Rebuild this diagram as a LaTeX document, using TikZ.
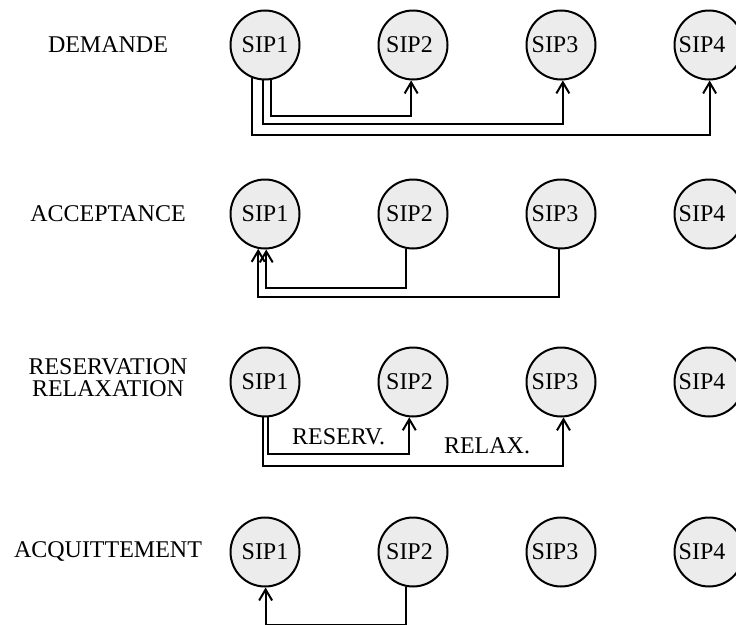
\documentclass[tikz,border=0pt]{standalone}
\usepackage{fontspec}
\setmainfont{Liberation Serif}
\usetikzlibrary{arrows.meta,positioning}
\tikzstyle{sip} = [circle, minimum size=69pt, inner sep=0pt, draw=black, fill=gray!15, line width=2pt, font=\fontsize{24}{21}\selectfont]
\tikzstyle{phase} = [align=center, font=\fontsize{24}{22}\selectfont]
\tikzstyle{tag} = [font=\fontsize{24}{21}\selectfont, inner sep=0pt]
\tikzstyle{msg} = [line width=2pt, -{Straight Barb[length=11pt,width=13pt,line width=2pt]}]

\begin{document}
\begin{tikzpicture}[x=1pt, y=1pt, node distance={77pt}]
			\useasboundingbox (0,0) rectangle (736,-624);
			
			% DEMANDE
			\node[phase, anchor=base] (ldem) at (108,-52) {DEMANDE};
			\node[sip] (d1) at (265,-45) {SIP1};
			\node[sip, right=of d1] (d2) {\kern-7pt SIP2};
			\node[sip, right=of d2] (d3) {\kern-12pt SIP3};
			\node[sip, right=of d3] (d4) {\kern-14pt SIP4};
			
			% ACCEPTANCE
			\node[phase, anchor=base] (lacc) at (108,-221) {ACCEPTANCE};
			\node[sip] (a1) at (265,-214) {SIP1};
			\node[sip, right=of a1] (a2) {\kern-7pt SIP2};
			\node[sip, right=of a2] (a3) {\kern-12pt SIP3};
			\node[sip, right=of a3] (a4) {\kern-14pt SIP4};
			
			% RESERVATION / RELAXATION
			\node[phase] (lres) at (108,-378) {RESERVATION\\RELAXATION};
			\node[sip] (r1) at (265,-382) {SIP1};
			\node[sip, right=of r1] (r2) {\kern-7pt SIP2};
			\node[sip, right=of r2] (r3) {\kern-12pt SIP3};
			\node[sip, right=of r3] (r4) {\kern-14pt SIP4};
			
			% ACQUITTEMENT
			\node[phase, anchor=base] (lacq) at (108,-557) {ACQUITTEMENT};
			\node[sip] (q1) at (265,-552) {SIP1};
			\node[sip, right=of q1] (q2) {\kern-7pt SIP2};
			\node[sip, right=of q2] (q3) {\kern-12pt SIP3};
			\node[sip, right=of q3] (q4) {\kern-14pt SIP4};
			
			%arrows
			\draw[msg] (d1.279.8) -- ++(0,-36.2) -| (d2.267.9);
			\draw[msg] (d1.266.3) -- ++(0,-43.8) -| (d3.273.9);
			\draw[msg] (d1.248.9) -- ++(0,-57.1) -| (d4.271.8);
			
			\draw[msg] (a2.259.7) -- ++(0,-39.3) -| (a1.272.8);
			\draw[msg] (a3.267.4) -- ++(0,-47.4) -| (a1.259.1);
			
			\draw[msg] (r1.275.4) -- ++(0,-37.1) -| node[tag, pos=0.25, above=9pt] (treserv) {RESERV.} (r2.264.6);
			\draw[msg] (r1.266.3) -- ++(0,-48.7) -| node[tag, pos=0.373, above=11pt] (trelax) {RELAX.} (r3.274.4);
			
			\draw[msg] (q2.258.1) -- ++(0,-38.6) -| (q1.271.1);
		\end{tikzpicture}
\end{document}
